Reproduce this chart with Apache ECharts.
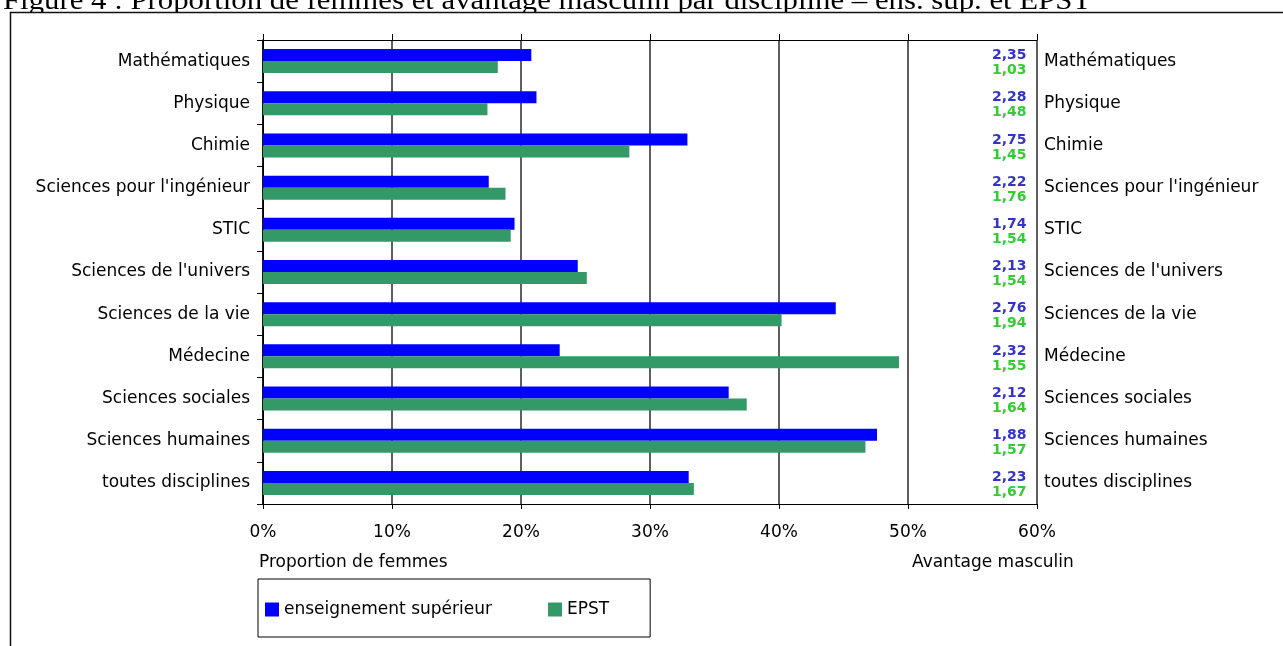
<!DOCTYPE html>
<html>
<head>
<meta charset="utf-8">
<script src="https://cdn.jsdelivr.net/npm/echarts@6/dist/echarts.min.js"></script>
<style>
  html, body { margin: 0; padding: 0; background: #fff; }
  #chart { width: 1283px; height: 646px; }
</style>
</head>
<body>
<div id="chart"></div>
<script>
// Disciplines, top to bottom
var categories = [
  'Mathématiques', 'Physique', 'Chimie', "Sciences pour l'ingénieur", 'STIC',
  "Sciences de l'univers", 'Sciences de la vie', 'Médecine', 'Sciences sociales',
  'Sciences humaines', 'toutes disciplines'
];
// Proportion de femmes (%)
var femmesSup = [20.8, 21.2, 32.9, 17.5, 19.5, 24.4, 44.4, 23.0, 36.1, 47.6, 33.0];
var femmesEpst = [18.2, 17.4, 28.4, 18.8, 19.2, 25.1, 40.2, 49.3, 37.5, 46.7, 33.4];
// Avantage masculin
var avantageSup = [2.35, 2.28, 2.75, 2.22, 1.74, 2.13, 2.76, 2.32, 2.12, 1.88, 2.23];
var avantageEpst = [1.03, 1.48, 1.45, 1.76, 1.54, 1.54, 1.94, 1.55, 1.64, 1.57, 1.67];
// Percentage scale
var xMin = 0, xMax = 60, xStep = 10;

var SANS = '"DejaVu Sans"';
function fr(v) { return v.toFixed(2).replace('.', ','); }

var chart = echarts.init(document.getElementById('chart'), null, { renderer: 'canvas' });

// The advantage figures sit just left of the right-hand axis, one pair per discipline
var labelAnchor = categories.map(function (c) { return [xMax, c]; });

chart.setOption({
  animation: false,
  backgroundColor: '#fff',
  textStyle: { fontFamily: SANS },
  grid: { left: 263, right: 246, top: 40, bottom: 142, containLabel: false },
  legend: {
    data: ['enseignement supérieur', 'EPST'],
    left: 258, top: 579,
    orient: 'horizontal',
    padding: [22, 41, 19, 7],
    borderColor: '#000', borderWidth: 1,
    itemWidth: 14, itemHeight: 14, itemGap: 56,
    icon: 'rect',
    textStyle: { fontFamily: SANS, fontSize: 17, color: '#000' }
  },
  xAxis: [{
    type: 'value', position: 'bottom', min: xMin, max: xMax, interval: xStep,
    axisLine: { show: true, lineStyle: { color: '#000', width: 1 } },
    axisTick: { show: true, inside: false, length: 5, lineStyle: { color: '#000' } },
    axisLabel: { formatter: '{value}%', fontFamily: SANS, fontSize: 17, color: '#000', margin: 20 },
    splitLine: { show: true, lineStyle: { color: '#2a2a2a', width: 1.5 } }
  }, {
    type: 'value', position: 'top', min: xMin, max: xMax, interval: xStep,
    axisLine: { show: true, lineStyle: { color: '#000', width: 1 } },
    axisTick: { show: true, inside: false, length: 6, lineStyle: { color: '#000' } },
    axisLabel: { show: false },
    splitLine: { show: false }
  }],
  yAxis: [{
    type: 'category', data: categories, inverse: true, position: 'left',
    axisLine: { show: true, lineStyle: { color: '#000', width: 1 } },
    axisTick: { show: true, length: 6, lineStyle: { color: '#000' } },
    axisLabel: { fontFamily: SANS, fontSize: 17, color: '#000', margin: 13 }
  }, {
    type: 'category', data: categories, inverse: true, position: 'right',
    axisLine: { show: true, lineStyle: { color: '#000', width: 1.5 } },
    axisTick: { show: false },
    axisLabel: { fontFamily: SANS, fontSize: 17, color: '#000', margin: 7 }
  }],
  series: [{
    name: 'enseignement supérieur', type: 'bar', data: femmesSup,
    xAxisIndex: 0, yAxisIndex: 0,
    barWidth: 12, barGap: '0%',
    itemStyle: { color: '#0000FF' }
  }, {
    name: 'EPST', type: 'bar', data: femmesEpst,
    xAxisIndex: 0, yAxisIndex: 0,
    barWidth: 12, barGap: '0%',
    itemStyle: { color: '#339966' }
  }, {
    name: 'avantage sup', type: 'scatter', data: labelAnchor,
    xAxisIndex: 0, yAxisIndex: 0, symbolSize: 1, silent: true, z: 5,
    itemStyle: { color: 'rgba(0,0,0,0)', opacity: 1 },
    label: {
      show: true, position: 'left', distance: 10, offset: [0, -5.5],
      formatter: function (p) { return fr(avantageSup[p.dataIndex]); },
      fontFamily: SANS, fontWeight: 'bold', fontSize: 14, color: '#3333CC'
    }
  }, {
    name: 'avantage epst', type: 'scatter', data: labelAnchor,
    xAxisIndex: 0, yAxisIndex: 0, symbolSize: 1, silent: true, z: 5,
    itemStyle: { color: 'rgba(0,0,0,0)', opacity: 1 },
    label: {
      show: true, position: 'left', distance: 10, offset: [0, 9.5],
      formatter: function (p) { return fr(avantageEpst[p.dataIndex]); },
      fontFamily: SANS, fontWeight: 'bold', fontSize: 14, color: '#33CC33'
    }
  }],
  graphic: [{
    type: 'text', left: 3, top: -12, z: -20,
    scaleX: 1.14,
    style: {
      text: 'Figure 4 : Proportion de femmes et avantage masculin par discipline – ens. sup. et EPST',
      font: '27px "Liberation Serif"', fill: '#000'
    }
  }, {
    // white chart box drawn over the title's lower edge
    type: 'rect', z: -10,
    shape: { x: 10.5, y: 12.5, width: 1290, height: 650 },
    style: { fill: '#fff', stroke: '#111', lineWidth: 1.5 }
  }, {
    type: 'text', left: 259, top: 554, z: 2,
    style: { text: 'Proportion de femmes', font: '17px ' + SANS, fill: '#000' }
  }, {
    type: 'text', left: 912, top: 554, z: 2,
    style: { text: 'Avantage masculin', font: '17px ' + SANS, fill: '#000' }
  }]
});
</script>
</body>
</html>
